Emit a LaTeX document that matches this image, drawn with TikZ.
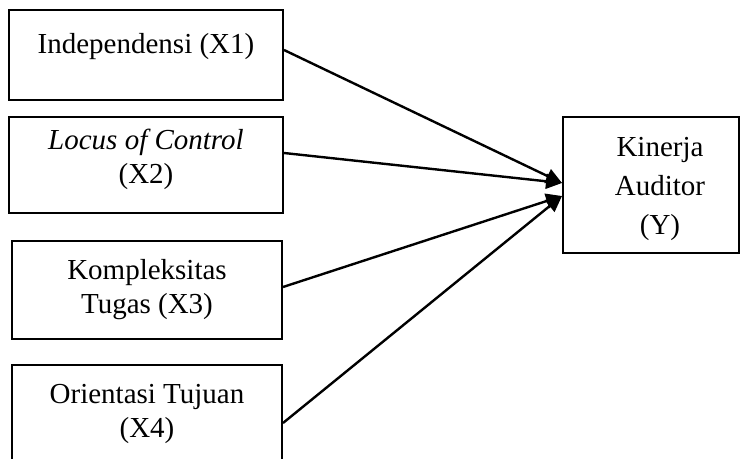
\documentclass[tikz,border=0pt]{standalone}
\usepackage{fontspec}
\setmainfont{Liberation Serif}
\usetikzlibrary{arrows.meta,calc}

\begin{document}
\begin{tikzpicture}[x=0.5pt, y=-0.5pt,
    box/.style={draw, line width=1pt, align=center, inner sep=0pt,
        font=\fontsize{14.5}{17}\selectfont},
    arr/.style={-{Triangle[length=8pt,width=7.5pt]}, line width=1.2pt}]
\useasboundingbox (0,0) rectangle (742,459);

% Independent variables
\node[box, minimum width=137pt, minimum height=45pt] (x1) at (146,55) {Independensi (X1)\\[-5pt]\mbox{}};
\node[box, minimum width=137pt, minimum height=48pt] (x2) at (146,165) {\textit{Locus of Control}\\(X2)\rule[-9pt]{0pt}{0pt}};
\node[box, minimum width=135pt, minimum height=49pt] (x3) at (147,290) {Kompleksitas\\Tugas (X3)};
\node[box, minimum width=135pt, minimum height=48.5pt] (x4) at (147,413.5) {Orientasi Tujuan\\(X4)};

% Dependent variable
\node[box, minimum width=88pt, minimum height=68pt, font=\fontsize{14.5}{19.5}\selectfont] (kin) at (651,185)
    {\hspace*{9pt}\rule{0pt}{14pt}Kinerja\\\hspace*{9pt}Auditor\\\hspace*{9pt}(Y)};

% Arrows
\draw[arr] ($(x1.east)+(0,-5)$) -- ($(kin.west)+(0,-2)$);
\draw[arr] ($(x2.east)+(0,-12)$) -- ($(kin.west)+(0,-2)$);
\draw[arr] ($(x3.east)+(0,-3)$) -- ($(kin.west)+(0,11)$);
\draw[arr] ($(x4.east)+(0,9.5)$) -- ($(kin.west)+(0,11)$);
\end{tikzpicture}
\end{document}
